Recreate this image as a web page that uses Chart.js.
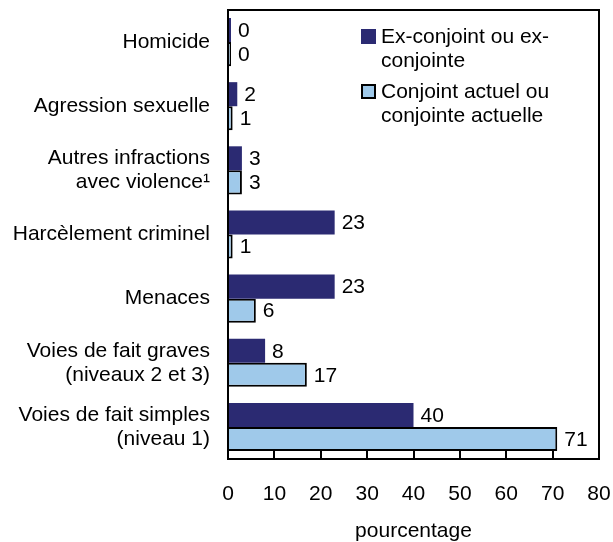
<!DOCTYPE html>
<html>
<head>
<meta charset="utf-8">
<script src="https://cdn.jsdelivr.net/npm/chart.js@4"></script>
<style>
    html, body { margin: 0; padding: 0; background: #fff; }
    #wrap { width: 613px; height: 542px; }
</style>
</head>
<body>
<div id="wrap"><canvas id="violenceChart" width="613" height="542"></canvas></div>
<script>
// categories (multi-line labels are arrays)
const categories = [
    'Homicide',
    'Agression sexuelle',
    ['Autres infractions', 'avec violence\u00b9'],
    'Harc\u00e8lement criminel',
    'Menaces',
    ['Voies de fait graves', '(niveaux 2 et 3)'],
    ['Voies de fait simples', '(niveau 1)']
];
const exPartner = [0, 2, 3, 23, 23, 8, 40];
const currentPartner = [0, 1, 3, 1, 6, 17, 71];
const seriesNames = [
    ['Ex-conjoint ou ex-', 'conjointe'],
    ['Conjoint actuel ou', 'conjointe actuelle']
];
const xTicks = [0, 10, 20, 30, 40, 50, 60, 70, 80];
const xTitle = 'pourcentage';

const FONT = '"Liberation Sans", Arial, Helvetica, sans-serif';
const DARK = '#2b2a72';
const LIGHT = '#9fc9ea';

function noPadding(scale) {
    scale.paddingTop = 0;
    scale.paddingBottom = 0;
    scale.paddingLeft = 0;
    scale.paddingRight = 0;
}

// frame, inward ticks, value labels and legend
const decorPlugin = {
    id: 'decor',
    afterDatasetsDraw(chart) {
        const ctx = chart.ctx;
        const area = chart.chartArea;
        const xScale = chart.scales.x;
        ctx.save();

        // value labels
        ctx.font = '21px ' + FONT;
        ctx.fillStyle = '#000';
        ctx.textAlign = 'left';
        ctx.textBaseline = 'middle';
        chart.data.datasets.forEach((ds, di) => {
            const meta = chart.getDatasetMeta(di);
            meta.data.forEach((bar, i) => {
                ctx.fillText(String(ds.data[i]), bar.x + 7, bar.y + 1);
            });
        });

        // frame
        ctx.strokeStyle = '#000';
        ctx.lineWidth = 2;
        ctx.strokeRect(area.left, area.top, area.right - area.left, area.bottom - area.top);

        // inward ticks on bottom axis
        xTicks.forEach(v => {
            const px = Math.round(xScale.getPixelForValue(v));
            ctx.beginPath();
            ctx.moveTo(px, area.bottom);
            ctx.lineTo(px, area.bottom - 9);
            ctx.stroke();
        });

        // legend
        const lx = area.left + 133;
        const colors = [DARK, LIGHT];
        let ly = area.top + 27;
        seriesNames.forEach((lines, si) => {
            ctx.fillStyle = colors[si];
            ctx.fillRect(lx, ly - 8, 15, 15);
            if (si === 1) {
                ctx.lineWidth = 2;
                ctx.strokeStyle = '#000';
                ctx.strokeRect(lx + 1, ly - 7, 13, 13);
            }
            ctx.fillStyle = '#000';
            ctx.font = '21px ' + FONT;
            lines.forEach((t, li) => {
                ctx.fillText(t, lx + 20, ly + li * 24);
            });
            ly += 55;
        });

        ctx.restore();
    }
};

new Chart(document.getElementById('violenceChart'), {
    type: 'bar',
    data: {
        labels: categories,
        datasets: [{
            label: seriesNames[0].join(' '),
            data: exPartner,
            backgroundColor: DARK,
            borderWidth: 0,
            minBarLength: 3
        }, {
            label: seriesNames[1].join(' '),
            data: currentPartner,
            backgroundColor: LIGHT,
            borderColor: '#000',
            borderWidth: 2,
            minBarLength: 3
        }]
    },
    options: {
        indexAxis: 'y',
        responsive: false,
        animation: false,
        datasets: {
            bar: { categoryPercentage: 0.75, barPercentage: 1.0 }
        },
        layout: { padding: { top: 10, right: 14, left: 0, bottom: 0 } },
        plugins: {
            legend: { display: false },
            tooltip: { enabled: false }
        },
        scales: {
            x: {
                min: 0,
                max: 80,
                afterFit(scale) { scale.height = 83; noPadding(scale); },
                afterBuildTicks(scale) { scale.ticks = xTicks.map(v => ({ value: v })); },
                grid: { display: false, drawTicks: false },
                border: { display: false },
                ticks: {
                    padding: 23,
                    color: '#000',
                    font: { family: FONT, size: 21 }
                },
                title: {
                    display: true,
                    text: xTitle,
                    color: '#000',
                    padding: { top: 0, bottom: -2 },
                    font: { family: FONT, size: 21 }
                }
            },
            y: {
                afterFit(scale) { scale.width = 228; noPadding(scale); },
                grid: { display: false, drawTicks: false },
                border: { display: false },
                ticks: {
                    padding: 18,
                    color: '#000',
                    font: { family: FONT, size: 21, lineHeight: 1.15 }
                }
            }
        }
    },
    plugins: [decorPlugin]
});
</script>
</body>
</html>
